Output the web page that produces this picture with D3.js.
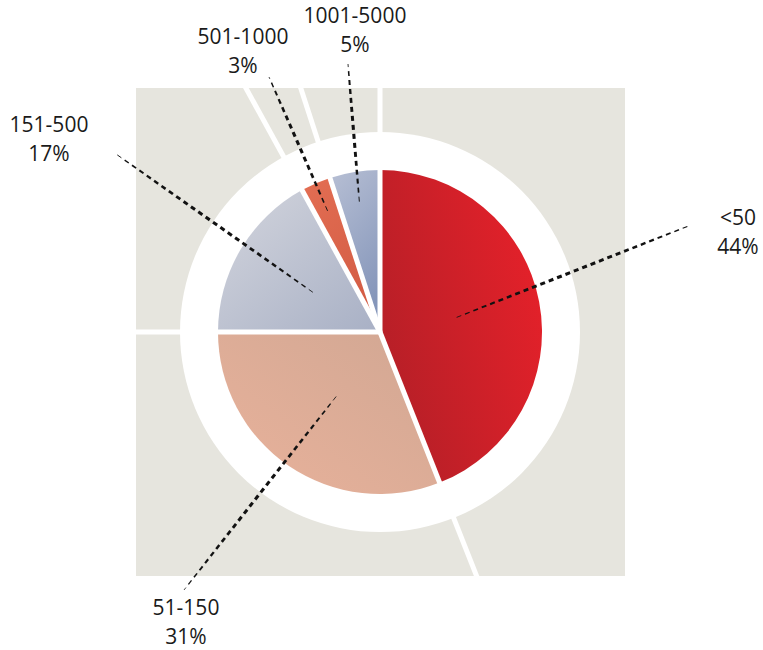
<!DOCTYPE html>
<html>
<head>
<meta charset="utf-8">
<script src="https://cdn.jsdelivr.net/npm/d3@7/dist/d3.min.js"></script>
<style>
  body { margin: 0; background: #fff; }
  svg { display: block; }
</style>
</head>
<body>
<div id="chart"></div>
<script>
"use strict";

/* chart data */
const categories = ["<50", "51-150", "151-500", "501-1000", "1001-5000"];
const shares     = [44, 31, 17, 3, 5];

/* gradient stops for each slice (start, end) */
const sliceColors = [
  ["#b31f27", "#e6212a"],
  ["#e9b29b", "#d1a793"],
  ["#d3d5dd", "#a8b0c5"],
  ["#e36e53", "#d35c44"],
  ["#b7bfd4", "#8596ba"]
];

/* label layout: anchor of first text line, and outer end of the leader */
const labelAnchors = [[738, 225], [186, 615], [49, 132], [243, 44], [355, 23]];
const leaderEnds   = [[691, 225], [184, 590], [116, 154], [269, 77], [348, 64]];

const width = 763, height = 650;
const cx = 380, cy = 332;
const pieRadius = 162, ringRadius = 200;
const gap = 5;

const svg = d3.select("#chart").append("svg")
  .attr("width", width)
  .attr("height", height);

const defs = svg.append("defs");

/* gradient directions per slice */
const gradDirs = [
  [0, 0.75, 1, 0.25],
  [0, 1, 1, 0],
  [0, 0, 1, 1],
  [0, 0, 0.4, 1],
  [0, 0, 0.35, 1]
];

sliceColors.forEach(function(c, i) {
  const g = defs.append("linearGradient")
    .attr("id", "grad" + i)
    .attr("x1", gradDirs[i][0]).attr("y1", gradDirs[i][1])
    .attr("x2", gradDirs[i][2]).attr("y2", gradDirs[i][3]);
  g.append("stop").attr("offset", "0%").attr("stop-color", c[0]);
  g.append("stop").attr("offset", "100%").attr("stop-color", c[1]);
});

/* beige square behind the pie */
const bg = { x: 136, y: 88, w: 489, h: 488 };

defs.append("clipPath").attr("id", "bgClip")
  .append("rect")
  .attr("x", bg.x).attr("y", bg.y)
  .attr("width", bg.w).attr("height", bg.h);

svg.append("rect")
  .attr("x", bg.x).attr("y", bg.y)
  .attr("width", bg.w).attr("height", bg.h)
  .attr("fill", "#e6e5de");

/* white ring */
svg.append("circle")
  .attr("cx", cx).attr("cy", cy)
  .attr("r", ringRadius)
  .attr("fill", "#fff");

/* pie */
const pie = d3.pie().sort(null).value(function(d) { return d; });
const arcs = pie(shares);

const arc = d3.arc().innerRadius(0).outerRadius(pieRadius);

const g = svg.append("g").attr("transform", "translate(" + cx + "," + cy + ")");

g.selectAll(".slice")
  .data(arcs)
  .enter().append("path")
  .attr("class", "slice")
  .attr("d", arc)
  .attr("fill", function(d, i) { return "url(#grad" + i + ")"; });

/* white separators along the slice boundaries, running out to the square edge */
svg.append("g")
  .attr("clip-path", "url(#bgClip)")
  .selectAll("line")
  .data(arcs)
  .enter().append("line")
  .attr("x1", cx)
  .attr("y1", cy)
  .attr("x2", function(d) { return cx + 500 * Math.sin(d.startAngle); })
  .attr("y2", function(d) { return cy - 500 * Math.cos(d.startAngle); })
  .attr("stroke", "#fff")
  .attr("stroke-width", gap);

/* tapered dashed leaders */
const leaderArcBig   = d3.arc().innerRadius(78).outerRadius(78);
const leaderArcSmall = d3.arc().innerRadius(132).outerRadius(132);

function dashesFor(p0, p1) {
  const dx = p1[0] - p0[0], dy = p1[1] - p0[1];
  const L = Math.sqrt(dx * dx + dy * dy);
  const ux = dx / L, uy = dy / L;
  const out = [];
  for (let s = 0; s < L; s += 9) {
    const e = Math.min(s + 5, L);
    const t = (s + e) / 2 / L;
    out.push({
      x1: p0[0] + ux * s, y1: p0[1] + uy * s,
      x2: p0[0] + ux * e, y2: p0[1] + uy * e,
      w: 0.5 + 2.6 * Math.pow(Math.sin(Math.PI * t), 0.6)
    });
  }
  return out;
}

let allDashes = [];
arcs.forEach(function(d, i) {
  const c = (d.value < 10 ? leaderArcSmall : leaderArcBig).centroid(d);
  const p0 = [cx + c[0], cy + c[1]];
  allDashes = allDashes.concat(dashesFor(p0, leaderEnds[i]));
});

svg.append("g")
  .selectAll("line")
  .data(allDashes)
  .enter().append("line")
  .attr("x1", function(d) { return d.x1; })
  .attr("y1", function(d) { return d.y1; })
  .attr("x2", function(d) { return d.x2; })
  .attr("y2", function(d) { return d.y2; })
  .attr("stroke", "#111")
  .attr("stroke-width", function(d) { return d.w; });

/* labels */
const label = svg.append("g")
  .selectAll("text")
  .data(categories)
  .enter().append("text")
  .attr("x", function(d, i) { return labelAnchors[i][0]; })
  .attr("y", function(d, i) { return labelAnchors[i][1]; })
  .attr("text-anchor", "middle")
  .style("font-family", "'Open Sans', sans-serif")
  .style("font-size", "21px")
  .style("fill", "#1a1a1a");

label.append("tspan")
  .text(function(d) { return d; });

label.append("tspan")
  .attr("x", function(d, i) { return labelAnchors[i][0]; })
  .attr("dy", 28.5)
  .text(function(d, i) { return shares[i] + "%"; });
</script>
</body>
</html>
